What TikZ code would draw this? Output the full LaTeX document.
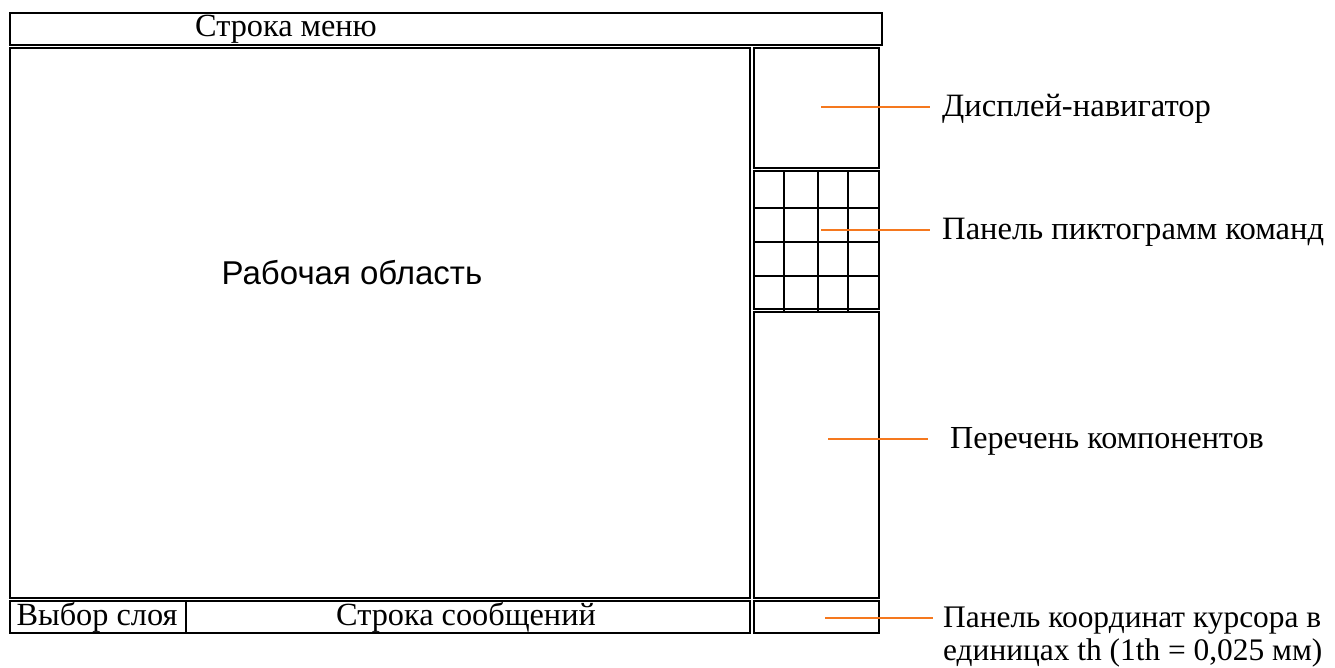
\documentclass[tikz,border=0pt]{standalone}
\usepackage{fontspec}
\setmainfont{Liberation Serif}
\newfontfamily\arialfont{Liberation Sans}
\begin{document}
\begin{tikzpicture}[x=1pt,y=-1pt,
  panel/.style={draw=black,line width=2pt,fill=none},
  lbl/.style={anchor=west,inner sep=0pt,font=\fontsize{32.6}{36}\selectfont},
  intext/.style={inner sep=0pt,font=\fontsize{32.3}{36}\selectfont},
  pointer/.style={draw={rgb,255:red,245;green,120;blue,30},line width=2pt}]
\useasboundingbox (0,0) rectangle (1335,668);
% menu bar
\draw[panel] (10,13) rectangle (882,45);
\node[intext] (menu) at (286,29) {Строка меню};
% work area
\draw[panel] (10,48) rectangle (750,598);
\node[inner sep=0pt,font=\arialfont\fontsize{33}{36}\selectfont] (work) at (352,273) {Рабочая область};
% right column
\draw[panel] (754,48) rectangle (879,168);
\draw[panel] (754,171) rectangle (879,309);
\foreach \yy in {208,242,276} \draw[line width=2pt] (754,\yy) -- (879,\yy);
\foreach \xx in {784,818,848} \draw[line width=2pt] (\xx,171) -- (\xx,313);
\draw[panel] (754,312) rectangle (879,598);
% bottom row
\draw[panel] (186,601) rectangle (750,633);
\draw[panel,line width=1.5pt] (10,601) rectangle (186,633);
\node[intext] (layer) at (97,617) {Выбор слоя};
\node[intext] (msg) at (466,617) {Строка сообщений};
\draw[panel] (754,601) rectangle (879,633);
% labels
\node[lbl] (nav) at (942,109) {Дисплей-навигатор};
\node[lbl] (icons) at (942,232) {Панель пиктограмм команд};
\node[lbl,font=\fontsize{32.1}{36}\selectfont] (comp) at (950,441) {Перечень компонентов};
\node[lbl,align=left,font=\fontsize{31.4}{33}\selectfont] (coord) at (943,637) {Панель координат курсора в\\единицах th (1th = 0,025 мм)};
% pointers
\coordinate (pnav) at (821,107);
\coordinate (picons) at (821,230);
\coordinate (pcomp) at (828,439);
\coordinate (pcoord) at (825,618);
\draw[pointer] (pnav) -- ([xshift=-12pt]pnav -| nav.west);
\draw[pointer] (picons) -- ([xshift=-12pt]picons -| icons.west);
\draw[pointer] (pcomp) -- ([xshift=-22pt]pcomp -| comp.west);
\draw[pointer] (pcoord) -- ([xshift=-10pt]pcoord -| coord.west);
\end{tikzpicture}
\end{document}
